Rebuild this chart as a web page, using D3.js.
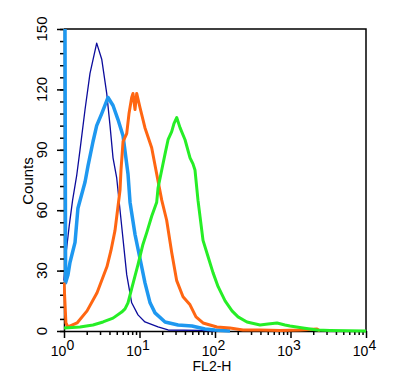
<!DOCTYPE html>
<html>
<head>
<meta charset="utf-8">
<script src="https://cdn.jsdelivr.net/npm/d3@7"></script>
<style>
  body { margin: 0; background: #fff; }
  text { font-family: "Liberation Sans", Arial, sans-serif; fill: #000; }
</style>
</head>
<body>
<div id="chart"></div>
<script>
// histogram traces, FL2-H value vs counts
var navyX = [1, 1.06, 1.17, 1.3, 1.47, 1.63, 1.9, 2.21, 2.71, 3.16, 3.68, 4.07, 4.46, 4.99, 5.81, 6.77, 7.88, 9.55, 11.8, 17.6, 23.9, 63, 100];
var navyY = [25, 38, 52, 65, 77, 90, 110, 128, 143, 135, 118, 102, 86, 76, 52, 28, 14, 8, 4.5, 2, 0.5, 0.3, 0];

var blueX = [1, 1.03, 1.05, 1.13, 1.2, 1.4, 1.53, 1.9, 2.08, 2.42, 2.71, 3.16, 3.83, 4.46, 5.19, 6.05, 7.04, 7.49, 8.72, 10.15, 11.8, 13.8, 16.05, 21.8, 32.4, 49.6, 73.7, 100, 158];
var blueY = [160, 160, 24, 28, 34, 44, 61, 74, 82, 94, 102, 108, 116, 112, 105, 97, 78, 64, 48, 36, 24, 14, 9, 4.5, 3, 2.5, 1, 0.5, 0];

var orangeX = [1, 1.06, 1.13, 1.49, 2.02, 2.74, 3.71, 4.19, 4.74, 5.04, 5.52, 5.69, 6.05, 6.77, 7.26, 7.88, 8.2, 8.72, 9.18, 10.15, 11.8, 14.5, 16.9, 19.7, 22.9, 26.7, 31.1, 37.7, 46.7, 56, 69.4, 106, 158, 235, 395, 726, 1336, 2244, 2460];
var orangeY = [24, 4, 2, 4, 10, 19, 32, 40, 50, 58, 70, 80, 94, 98, 108, 116, 118, 110, 118, 111, 101, 91, 78, 65, 55, 39, 25, 17, 13, 7, 4, 2, 1.5, 0.5, 0.5, 0.3, 0.5, 1, 0];

var greenX = [1, 1.63, 2.42, 3.29, 4.46, 5.81, 6.43, 7.04, 7.88, 9.55, 11.1, 12.5, 14.5, 16.9, 17.6, 19.7, 21.8, 23.9, 26.7, 28.6, 31.1, 34.4, 40.1, 46.7, 51.1, 54.3, 59.5, 69.4, 80.8, 94.1, 110, 136, 168, 202, 265, 395, 504, 663, 846, 985, 1464, 2244, 3336, 10000];
var greenY = [1.5, 2, 3, 4.5, 6.4, 9.4, 11, 14, 21, 33, 43, 49, 57, 64, 71, 80, 88, 95, 99, 103, 106, 101, 95, 86, 83, 80, 65, 45, 37, 29, 22, 15, 10, 7, 4.5, 3, 3.5, 4, 3, 2.5, 1.5, 0.5, 0.3, 0];

var yTicks = [0, 30, 60, 90, 120, 150];
var xDecades = [0, 1, 2, 3, 4];

var W = 399, H = 387;
var margin = {top: 29, right: 33, bottom: 56, left: 64},
    width = W - margin.left - margin.right,
    height = H - margin.top - margin.bottom;

var x = d3.scaleLog().domain([1, 10000]).range([0, width]);
var y = d3.scaleLinear().domain([0, 150]).range([height, 0]);

var svg = d3.select("#chart").append("svg")
    .attr("width", W).attr("height", H)
    .style("background", "#fff");

var g = svg.append("g")
    .attr("transform", "translate(" + margin.left + "," + margin.top + ")");

g.append("clipPath").attr("id", "clip")
  .append("rect").attr("x", -1).attr("y", 0).attr("width", width + 1).attr("height", height + 2);

// frame top/right
g.append("path")
  .attr("d", "M0,0H" + width + "V" + height)
  .attr("fill", "none").attr("stroke", "#000").attr("stroke-width", 1.5);

// y axis
var yMinor = d3.range(0, 151, 6);
g.append("g")
  .call(d3.axisLeft(y).tickValues(yMinor).tickSize(4).tickFormat(""))
  .call(function(a) { a.select(".domain").remove(); a.selectAll("line").attr("stroke-width", 1.5); });
g.append("g")
  .call(d3.axisLeft(y).tickValues(yTicks).tickSize(7).tickSizeOuter(0).tickFormat(""))
  .call(function(a) { a.selectAll("path,line").attr("stroke-width", 1.5); });

yTicks.forEach(function(v) {
  g.append("text")
    .attr("transform", "translate(-17," + y(v) + ") rotate(-90)")
    .attr("text-anchor", "middle")
    .style("font-size", "15px")
    .text(v);
});

// x axis
var xMinor = [];
[0, 1, 2, 3].forEach(function(k) {
  for (var m = 2; m < 10; m++) xMinor.push(m * Math.pow(10, k));
});
var xa = g.append("g").attr("transform", "translate(0," + height + ")");
xa.append("g")
  .call(d3.axisBottom(x).tickValues(xMinor).tickSize(4).tickFormat(""))
  .call(function(a) { a.select(".domain").remove(); a.selectAll("line").attr("stroke-width", 1.5); });
xa.append("g")
  .call(d3.axisBottom(x).tickValues(xDecades.map(function(k) { return Math.pow(10, k); })).tickSize(7).tickSizeOuter(0).tickFormat(""))
  .call(function(a) { a.selectAll("path,line").attr("stroke-width", 1.5); });

xDecades.forEach(function(k) {
  var t = xa.append("text")
    .attr("x", x(Math.pow(10, k)) - 1.5)
    .attr("y", 25)
    .attr("text-anchor", "middle")
    .style("font-size", "14px");
  t.append("tspan").text("10");
  t.append("tspan").attr("dy", -6).text(k);
});

// curves drawn over the axes, as in the original
var line = d3.line()
    .x(function(d) { return x(d[0]); })
    .y(function(d) { return y(d[1]); });

function series(xs, ys) { return xs.map(function(v, i) { return [v, ys[i]]; }); }

var traces = [
  {data: series(navyX, navyY), color: "#0c0c9c", w: 1.3},
  {data: series(blueX, blueY), color: "#1e98f0", w: 3.5},
  {data: series(orangeX, orangeY), color: "#ff6612", w: 3},
  {data: series(greenX, greenY), color: "#26ee26", w: 3}
];

var plot = g.append("g").attr("clip-path", "url(#clip)");
traces.forEach(function(t) {
  plot.append("path")
    .datum(t.data)
    .attr("fill", "none")
    .attr("stroke", t.color)
    .attr("stroke-width", t.w)
    .attr("stroke-linejoin", "round")
    .attr("d", line);
});

svg.append("text")
  .attr("x", 212).attr("y", 371)
  .attr("text-anchor", "middle")
  .style("font-size", "14px")
  .text("FL2-H");

svg.append("text")
  .attr("transform", "translate(33,181) rotate(-90)")
  .attr("text-anchor", "middle")
  .style("font-size", "15px")
  .text("Counts");
</script>
</body>
</html>
